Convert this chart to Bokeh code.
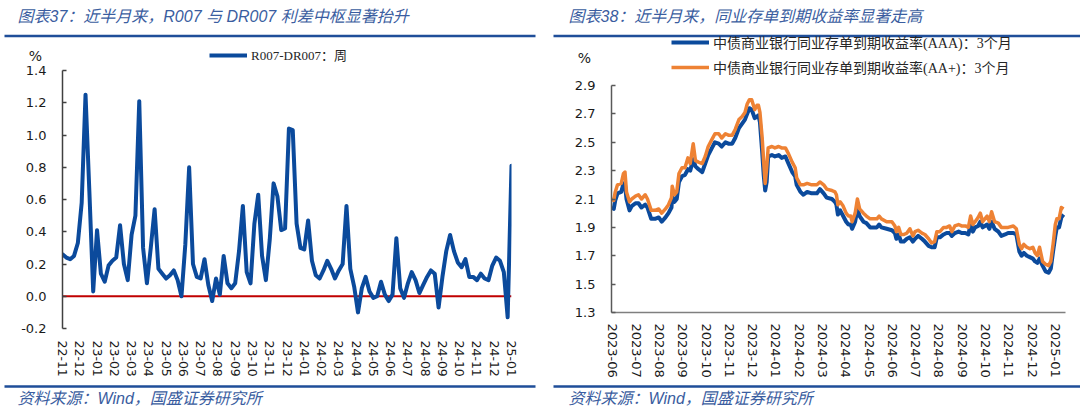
import numpy as np
import pandas as pd
from bokeh.core.properties import value
from bokeh.embed import file_html
from bokeh.layouts import column, row
from bokeh.models import (CustomJSTickFormatter, FixedTicker, Legend, LegendItem,
                          NumeralTickFormatter, Range1d, Span)
from bokeh.plotting import figure
from bokeh.resources import INLINE

# ---------------- 图表37: weekly R007 - DR007 spread (%) ----------------
spread_labels = ["22-11", "22-12",
                 "23-01", "23-02", "23-03", "23-04", "23-05", "23-06",
                 "23-07", "23-08", "23-09", "23-10", "23-11", "23-12",
                 "24-01", "24-02", "24-03", "24-04", "24-05", "24-06",
                 "24-07", "24-08", "24-09", "24-10", "24-11", "24-12",
                 "25-01"]
spread = [
    0.26, 0.24, 0.23, 0.25, 0.33, 0.58, 1.25, 0.65, 0.03, 0.41,
    0.14, 0.09, 0.19, 0.22, 0.24, 0.44, 0.20, 0.10, 0.38, 0.50,
    1.21, 0.30, 0.08, 0.30, 0.54, 0.17, 0.14, 0.11, 0.13, 0.16,
    0.10, 0.00, 0.32, 0.80, 0.20, 0.12, 0.11, 0.23, 0.07, -0.03,
    0.11, 0.01, 0.25, 0.08, 0.05, 0.08, 0.28, 0.56, 0.15, 0.08,
    0.45, 0.63, 0.25, 0.10, 0.35, 0.70, 0.62, 0.41, 0.42, 1.04,
    1.03, 0.45, 0.30, 0.29, 0.47, 0.22, 0.13, 0.11, 0.16, 0.22,
    0.17, 0.11, 0.16, 0.20, 0.56, 0.17, 0.06, -0.10, 0.05, 0.12,
    0.03, -0.01, 0.00, 0.09, 0.01, -0.03, 0.01, 0.36, 0.05, -0.01,
    0.08, 0.15, 0.10, 0.02, 0.07, 0.12, 0.16, 0.14, -0.07, 0.12,
    0.28, 0.38, 0.28, 0.21, 0.18, 0.23, 0.12, 0.12, 0.10, 0.14,
    0.11, 0.10, 0.19, 0.24, 0.22, 0.15, -0.13, 0.81,
]
spread_yticks = [-0.2, 0.0, 0.2, 0.4, 0.6, 0.8, 1.0, 1.2, 1.4]

# ---------------- 图表38: 3M interbank NCD yields (%) ----------------
ncd_labels = ["2023-06", "2023-07", "2023-08", "2023-09", "2023-10", "2023-11",
              "2023-12", "2024-01", "2024-02", "2024-03", "2024-04", "2024-05",
              "2024-06", "2024-07", "2024-08", "2024-09", "2024-10", "2024-11",
              "2024-12", "2025-01"]
ncd_dates = [
    "2023-06-01", "2023-06-04", "2023-06-06", "2023-06-09", "2023-06-14", "2023-06-17", "2023-06-19", "2023-06-21", "2023-06-25", "2023-06-28",
    "2023-07-03", "2023-07-07", "2023-07-11", "2023-07-16", "2023-07-19", "2023-07-24", "2023-07-29",
    "2023-08-03", "2023-08-07", "2023-08-12", "2023-08-16", "2023-08-20", "2023-08-21", "2023-08-24", "2023-08-27", "2023-08-30",
    "2023-09-03", "2023-09-07", "2023-09-11", "2023-09-14", "2023-09-18", "2023-09-21", "2023-09-25", "2023-09-30",
    "2023-10-04", "2023-10-08", "2023-10-13", "2023-10-17", "2023-10-22", "2023-10-26", "2023-10-31",
    "2023-11-04", "2023-11-09", "2023-11-13", "2023-11-18", "2023-11-22", "2023-11-26", "2023-11-29",
    "2023-12-02", "2023-12-05", "2023-12-09", "2023-12-12", "2023-12-14", "2023-12-16", "2023-12-19", "2023-12-21", "2023-12-23", "2023-12-25", "2023-12-27",
    "2024-01-01", "2024-01-05", "2024-01-10", "2024-01-14", "2024-01-19", "2024-01-23", "2024-01-28",
    "2024-02-01", "2024-02-03", "2024-02-08", "2024-02-12", "2024-02-17", "2024-02-23",
    "2024-03-01", "2024-03-05", "2024-03-10", "2024-03-14", "2024-03-21", "2024-03-25", "2024-03-27", "2024-03-29",
    "2024-04-01", "2024-04-05", "2024-04-09", "2024-04-12", "2024-04-15", "2024-04-17", "2024-04-21", "2024-04-24", "2024-04-27",
    "2024-05-02", "2024-05-06", "2024-05-11", "2024-05-15", "2024-05-20", "2024-05-23", "2024-05-26",
    "2024-06-02", "2024-06-09", "2024-06-13", "2024-06-15", "2024-06-18", "2024-06-21", "2024-06-25", "2024-06-29",
    "2024-07-03", "2024-07-07", "2024-07-10", "2024-07-14", "2024-07-19", "2024-07-23", "2024-07-28",
    "2024-08-01", "2024-08-05", "2024-08-08", "2024-08-12", "2024-08-17", "2024-08-21", "2024-08-25", "2024-08-28",
    "2024-09-01", "2024-09-06", "2024-09-10", "2024-09-15", "2024-09-19", "2024-09-22", "2024-09-25", "2024-09-28",
    "2024-10-02", "2024-10-05", "2024-10-08", "2024-10-11", "2024-10-14", "2024-10-17", "2024-10-20", "2024-10-24", "2024-10-29",
    "2024-11-02", "2024-11-07", "2024-11-11", "2024-11-18", "2024-11-22", "2024-11-26", "2024-11-29",
    "2024-12-02", "2024-12-06", "2024-12-10", "2024-12-14", "2024-12-17", "2024-12-20", "2024-12-23", "2024-12-27", "2024-12-31",
    "2025-01-04", "2025-01-07", "2025-01-10", "2025-01-13", "2025-01-15", "2025-01-18", "2025-01-21", "2025-01-24",
]
ncd_aaa = [
    2.04, 2.03, 2.09, 2.14, 2.15, 2.21, 2.20, 2.10, 2.02, 2.05,
    2.07, 2.07, 2.04, 2.06, 2.04, 1.96, 1.96,
    1.97, 1.94, 1.97, 2.00, 2.04, 2.12, 2.08, 2.10, 2.22,
    2.26, 2.27, 2.31, 2.30, 2.38, 2.33, 2.31, 2.29,
    2.35, 2.41, 2.46, 2.50, 2.49, 2.47, 2.50,
    2.49, 2.49, 2.53, 2.60, 2.63, 2.66, 2.70,
    2.74, 2.73, 2.67, 2.68, 2.69, 2.64, 2.43, 2.27, 2.16, 2.22, 2.40,
    2.41, 2.40, 2.41, 2.39, 2.40, 2.35, 2.29,
    2.26, 2.20, 2.15, 2.13, 2.15, 2.14,
    2.14, 2.17, 2.14, 2.11, 2.10, 2.08, 2.06, 1.99,
    2.02, 1.98, 1.94, 1.92, 1.92, 1.89, 1.94, 2.03, 1.98,
    1.94, 1.93, 1.90, 1.90, 1.90, 1.92, 1.90,
    1.89, 1.88, 1.86, 1.82, 1.85, 1.80, 1.80, 1.82,
    1.83, 1.80, 1.82, 1.84, 1.82, 1.80, 1.77,
    1.76, 1.76, 1.83, 1.83, 1.85, 1.86, 1.86, 1.84,
    1.86, 1.87, 1.86, 1.86, 1.85, 1.92, 1.87, 1.90,
    1.91, 1.94, 1.90, 1.91, 1.92, 1.89, 1.94, 1.89, 1.87,
    1.84, 1.85, 1.86, 1.86, 1.85, 1.73, 1.70,
    1.72, 1.70, 1.69, 1.68, 1.66, 1.65, 1.68, 1.63, 1.59,
    1.58, 1.61, 1.73, 1.84, 1.90, 1.90, 1.97, 1.99,
]
ncd_aa_plus = [
    2.10, 2.09, 2.15, 2.20, 2.21, 2.28, 2.29, 2.15, 2.08, 2.10,
    2.12, 2.13, 2.10, 2.13, 2.10, 2.02, 2.02,
    2.03, 2.00, 2.03, 2.06, 2.11, 2.19, 2.13, 2.15, 2.28,
    2.32, 2.32, 2.39, 2.35, 2.49, 2.37, 2.36, 2.35,
    2.40, 2.47, 2.52, 2.56, 2.56, 2.53, 2.56,
    2.55, 2.55, 2.59, 2.66, 2.68, 2.71, 2.77,
    2.80, 2.80, 2.73, 2.76, 2.76, 2.71, 2.53, 2.36, 2.21, 2.32, 2.46,
    2.47, 2.46, 2.47, 2.46, 2.46, 2.42, 2.36,
    2.32, 2.25, 2.20, 2.20, 2.21, 2.20,
    2.20, 2.22, 2.20, 2.17, 2.16, 2.15, 2.13, 2.06,
    2.08, 2.05, 2.00, 1.98, 1.98, 1.94, 2.00, 2.10, 2.03,
    2.00, 1.98, 1.96, 1.96, 1.96, 1.98, 1.96,
    1.94, 1.94, 1.91, 1.87, 1.90, 1.85, 1.85, 1.86,
    1.89, 1.84, 1.87, 1.88, 1.86, 1.85, 1.82,
    1.79, 1.80, 1.87, 1.87, 1.90, 1.90, 1.91, 1.87,
    1.91, 1.92, 1.91, 1.91, 1.90, 1.98, 1.92, 1.94,
    1.97, 2.00, 1.94, 1.96, 1.98, 1.94, 2.01, 1.94, 1.93,
    1.90, 1.90, 1.90, 1.91, 1.89, 1.78, 1.75,
    1.78, 1.76, 1.75, 1.76, 1.72, 1.70, 1.76, 1.66, 1.64,
    1.63, 1.66, 1.78, 1.92, 1.96, 1.96, 2.04, 2.03,
]
ncd_yticks = [1.3, 1.5, 1.7, 1.9, 2.1, 2.3, 2.5, 2.7, 2.9]

# ---------------- styling ----------------
BLUE = "#0B4A9C"
ORANGE = "#EE8234"
RED = "#C00000"
RULE = "#1F4E99"
CAPTION = "#3A5DA0"
TICK_TEXT = "#1A1A1A"
CAPTION_FONT = "Liberation Sans, Noto Sans CJK SC"
TICK_FONT = "DejaVu Sans"
LEGEND_FONT = "Liberation Serif, Noto Sans CJK SC"


def band(x0, x1, y0, y1):
    """A strip of the page (captions, rules, legend) addressed in page pixels."""
    p = figure(width=x1 - x0, height=y1 - y0, x_range=Range1d(x0, x1), y_range=Range1d(y1, y0),
               x_axis_location=None, y_axis_location=None, toolbar_location=None,
               output_backend="svg", min_border=0, title=None, frame_align=False)
    p.xgrid.grid_line_color = None
    p.ygrid.grid_line_color = None
    p.outline_line_color = None
    return p


def caption(p, x, y, s):
    p.text(x=[x], y=[y], text=[s], text_font=value(CAPTION_FONT), text_font_size="16px",
           text_font_style="italic", text_color=CAPTION, text_baseline="middle", text_align="left")


def rule(p, x0, x1, y):
    p.segment(x0=[x0], y0=[y], x1=[x1], y1=[y], line_color=RULE, line_width=2.5)


def percent(p, x, y):
    p.text(x=[x], y=[y], text=["%"], text_font=value(TICK_FONT), text_font_size="14px",
           text_color=TICK_TEXT, text_align="center", text_baseline="middle")


def style_y(p, ticks, color):
    ax = p.yaxis[0]
    ax.ticker = FixedTicker(ticks=ticks)
    ax.formatter = NumeralTickFormatter(format="0.0")
    ax.axis_line_color = color
    ax.axis_line_width = 1.5
    ax.major_tick_line_color = color
    ax.major_tick_line_width = 1.5
    ax.major_tick_in = 4
    ax.major_tick_out = 0
    ax.minor_tick_line_color = None
    ax.major_label_text_font = TICK_FONT
    ax.major_label_text_font_size = "13px"
    ax.major_label_text_color = TICK_TEXT
    ax.major_label_standoff = 16


def style_x(p, size, standoff):
    ax = p.xaxis[0]
    ax.major_tick_line_color = None
    ax.minor_tick_line_color = None
    ax.major_tick_in = 0
    ax.major_tick_out = 0
    ax.major_label_orientation = "vertical"
    ax.major_label_text_font = TICK_FONT
    ax.major_label_text_font_size = size
    ax.major_label_text_color = TICK_TEXT
    ax.major_label_standoff = standoff


def legend(items, loc, size):
    return Legend(items=items, location=loc, orientation="vertical", border_line_color=None,
                  background_fill_alpha=0, padding=0, margin=0, spacing=5,
                  glyph_width=38, glyph_height=16, label_height=16, label_standoff=4,
                  label_text_font=LEGEND_FONT, label_text_font_size=size,
                  label_text_color="#262626")


# ---------------- left panel ----------------
n = len(spread)
x_week = np.arange(n)
p1 = figure(width=540, height=316, x_range=Range1d(0, n - 1), y_range=Range1d(-0.2, 1.4),
            toolbar_location=None, output_backend="svg", title=None, frame_align=False,
            min_border_left=62, min_border_right=29, min_border_top=6, min_border_bottom=52)
p1.xgrid.grid_line_color = None
p1.ygrid.grid_line_color = None
p1.outline_line_color = None
p1.add_layout(Span(location=0, dimension="width", line_color=RED, line_width=2, level="underlay"))
p1.line(x_week, spread, line_color=BLUE, line_width=4, line_join="round", line_cap="round")
style_y(p1, spread_yticks, "#404040")
style_x(p1, "12.5px", 12)
p1.xaxis[0].axis_line_color = None
step1 = (n - 1) / (len(spread_labels) - 1)
p1.xaxis[0].ticker = FixedTicker(ticks=[i * step1 for i in range(len(spread_labels))])
p1.xaxis[0].formatter = CustomJSTickFormatter(
    args=dict(labels=spread_labels, step=step1),
    code="return labels[Math.round(tick / step)] || '';")

h1 = band(0, 540, 0, 64)
caption(h1, 17, 16, "图表37：近半月来，R007 与 DR007 利差中枢显著抬升")
rule(h1, 4, 535, 35.5)
percent(h1, 35, 55)
# legend key only: a renderer carrying the series style with nothing to plot
key1 = h1.line(x=[np.nan], y=[np.nan], line_color=BLUE, line_width=4)
h1.add_layout(legend([LegendItem(label="R007-DR007：周", renderers=[key1])], (209, 0), "13px"))

f1 = band(0, 540, 380, 410)
rule(f1, 4, 535, 386)
caption(f1, 17, 398, "资料来源：Wind，国盛证券研究所")

# ---------------- right panel ----------------
dates = pd.to_datetime(ncd_dates)
p2 = figure(width=540, height=302, x_axis_type="datetime",
            x_range=Range1d(pd.Timestamp("2023-06-01"), pd.Timestamp("2025-01-26 14:00")),
            y_range=Range1d(1.3, 2.9), toolbar_location=None, output_backend="svg", title=None,
            frame_align=False,
            min_border_left=71, min_border_right=15, min_border_top=7, min_border_bottom=67)
p2.xgrid.grid_line_color = None
p2.ygrid.grid_line_color = None
p2.outline_line_color = None
p2.line(dates, ncd_aaa, line_color=BLUE, line_width=4, line_join="round")
p2.line(dates, ncd_aa_plus, line_color=ORANGE, line_width=3.5, line_join="round")
style_y(p2, ncd_yticks, "#595959")
style_x(p2, "13px", 11)
p2.xaxis[0].axis_line_color = "#7F7F7F"
p2.xaxis[0].axis_line_width = 1.5
t0 = pd.Timestamp("2023-06-03").value / 1e6
t1 = pd.Timestamp("2025-01-13").value / 1e6
step2 = (t1 - t0) / (len(ncd_labels) - 1)
p2.xaxis[0].ticker = FixedTicker(ticks=[t0 + i * step2 for i in range(len(ncd_labels))])
p2.xaxis[0].formatter = CustomJSTickFormatter(
    args=dict(labels=ncd_labels, t0=t0, step=step2),
    code="return labels[Math.round((tick - t0) / step)] || '';")

h2 = band(540, 1080, 0, 78)
caption(h2, 568, 16, "图表38：近半月来，同业存单到期收益率显著走高")
rule(h2, 553, 1080, 35.5)
percent(h2, 584, 57)
key_aaa = h2.line(x=[np.nan], y=[np.nan], line_color=BLUE, line_width=4)
key_aap = h2.line(x=[np.nan], y=[np.nan], line_color=ORANGE, line_width=3.5)
h2.add_layout(legend([LegendItem(label="中债商业银行同业存单到期收益率(AAA)：3个月", renderers=[key_aaa]),
                      LegendItem(label="中债商业银行同业存单到期收益率(AA+)：3个月", renderers=[key_aap])],
                     (131, 1), "14px"))

f2 = band(540, 1080, 380, 410)
rule(f2, 553, 1080, 386)
caption(f2, 568, 398, "资料来源：Wind，国盛证券研究所")

page = row(column(h1, p1, f1), column(h2, p2, f2))
open("out.html", "w").write(file_html(page, INLINE))
